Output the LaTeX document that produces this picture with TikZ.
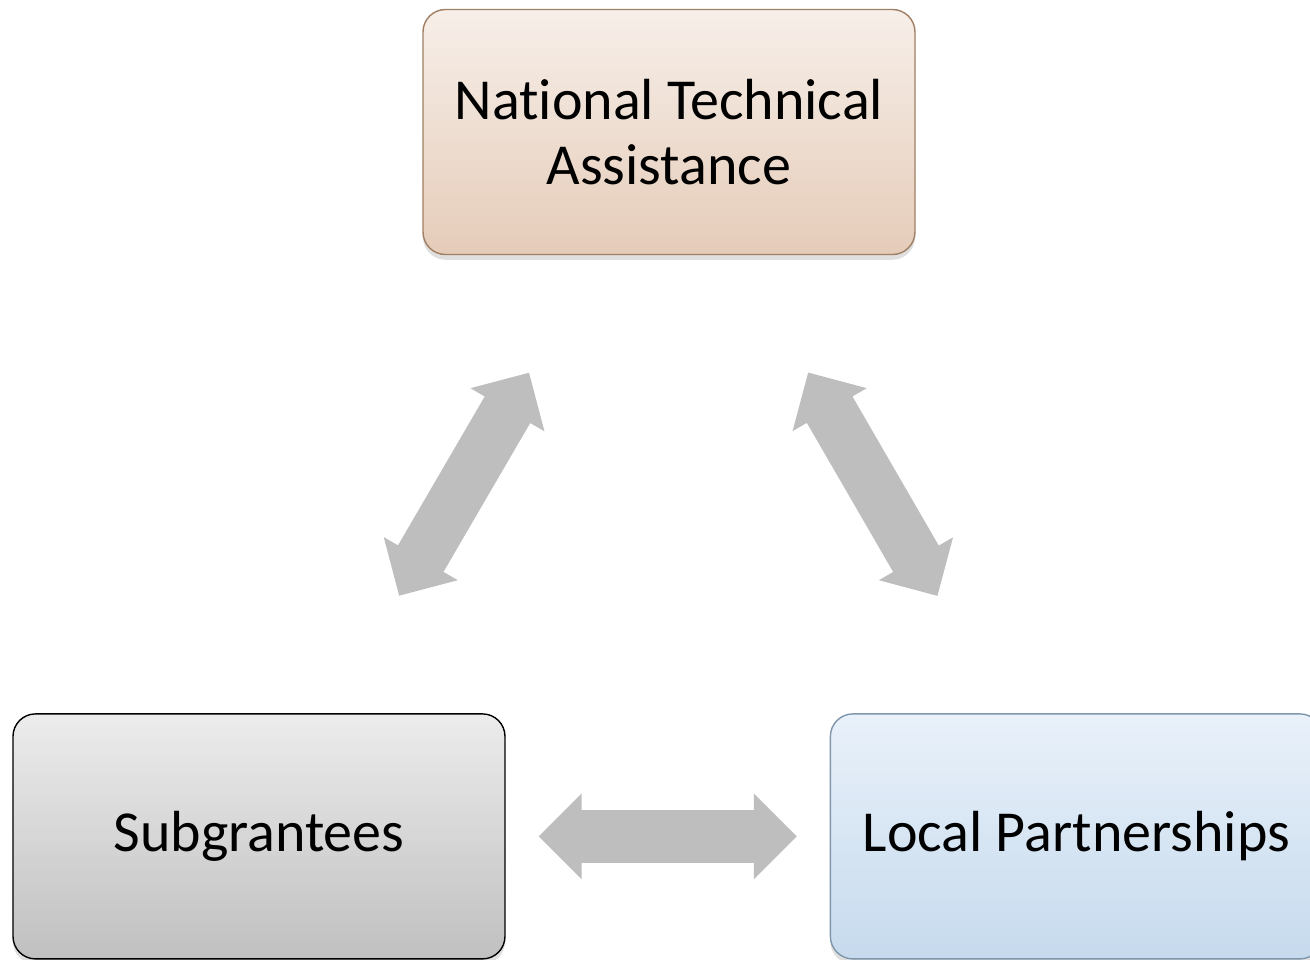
\documentclass[tikz,border=0pt]{standalone}
\usepackage{xcolor}
\usepackage{fontspec}
\setmainfont{Carlito}[RawFeature={-liga;-clig;-calt}]
\usepackage{tikz}
\usetikzlibrary{calc, shapes, shapes.arrows, shadows, positioning}

\definecolor{ntagora}{RGB}{247,239,233}
\definecolor{ntadol}{RGB}{229,204,185}
\definecolor{ntaramka}{RGB}{160,128,100}
\definecolor{subgora}{RGB}{236,236,236}
\definecolor{subdol}{RGB}{192,192,192}
\definecolor{lpgora}{RGB}{233,241,250}
\definecolor{lpdol}{RGB}{198,218,237}
\definecolor{lpramka}{RGB}{128,150,172}
\definecolor{strzalka}{RGB}{190,190,190}

\tikzset{
  blok/.style={rectangle, rounded corners=0.45cm, line width=0.8pt,
    minimum width=9.84cm, minimum height=4.9cm, align=center,
    font=\fontsize{33}{37}\selectfont,
    drop shadow={opacity=0.25, shadow xshift=0pt, shadow yshift=-3pt}},
  dwustronna/.style={double arrow, fill=strzalka, draw=none,
    inner xsep=0pt, inner ysep=0.52cm, minimum height=5.16cm,
    minimum width=1.7cm, double arrow head extend=0.33cm,
    double arrow tip angle=90}
}

\begin{document}
\begin{tikzpicture}
\useasboundingbox (-13.38,-16.56) rectangle (12.82,2.64);
\node[blok, draw=ntaramka, top color=ntagora, bottom color=ntadol](nta){Nat\kern0pt ional Technical\\Assistance};
\node[blok, draw=black, top color=subgora, bottom color=subdol, below=9.16cm of nta, xshift=-8.2cm](sub){Subgrantees};
\node[blok, draw=lpramka, top color=lpgora, bottom color=lpdol, right=6.48cm of sub](lp){Local Partnerships};
\path (sub) -- node[dwustronna, sloped]{} (nta);
\path (nta) -- node[dwustronna, sloped]{} (lp);
\path (sub) -- node[dwustronna, sloped]{} (lp);
\end{tikzpicture}
\end{document}
